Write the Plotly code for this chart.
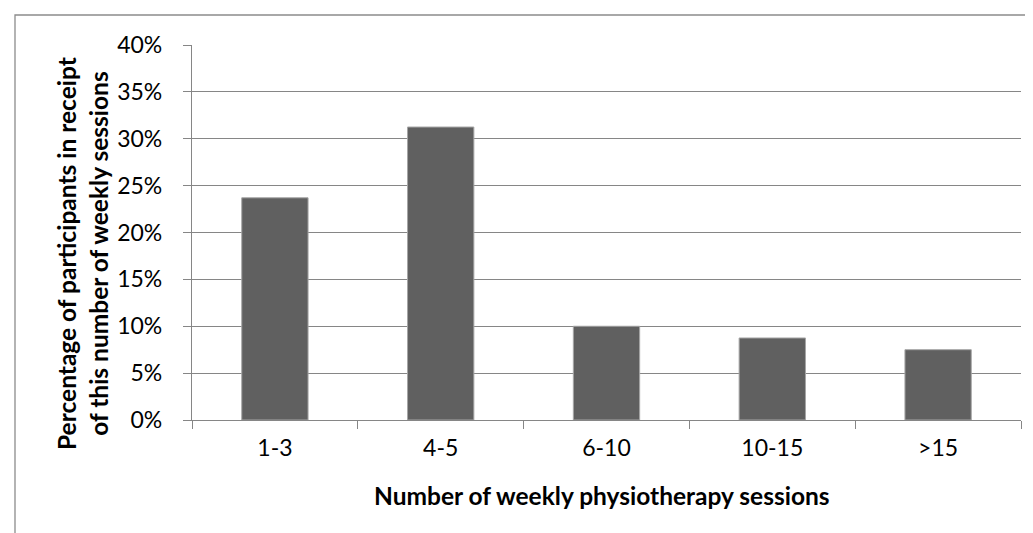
import plotly.graph_objects as go

categories = ["1-3", "4-5", "6-10", "10-15", ">15"]
values = [0.237, 0.3125, 0.100, 0.0875, 0.075]
y_ticks = [0, 0.05, 0.10, 0.15, 0.20, 0.25, 0.30, 0.35, 0.40]
x_title = "Number of weekly physiotherapy sessions"
y_title = "Percentage of participants in receipt<br>of this number of weekly sessions"

W, H = 1033, 533
L, R, T, B = 184, 20, 37, 121
FONT = "Lato"
GRID = "#868686"

fig = go.Figure(go.Bar(
    x=categories, y=values,
    marker=dict(color="#606060", line=dict(color="#a6a6a6", width=1)),
    width=0.4,
))

fig.update_layout(
    width=W, height=H,
    margin=dict(l=L, r=R, t=T, b=B, pad=0),
    paper_bgcolor="white", plot_bgcolor="white",
    showlegend=False,
    font=dict(family=FONT, color="black"),
    xaxis=dict(
        type="category", tickson="boundaries",
        ticks="outside", ticklen=8, tickcolor=GRID, tickwidth=1.3,
        showline=True, linecolor=GRID, linewidth=1.3,
        showgrid=False,
        tickfont=dict(family=FONT, size=23, color="black"),
        ticklabelstandoff=7,
    ),
    yaxis=dict(
        range=[0, 0.4], tickvals=y_ticks, tickformat=".0%",
        ticks="outside", ticklen=8, tickcolor=GRID, tickwidth=1.3,
        showline=True, linecolor=GRID, linewidth=1.3,
        showgrid=True, gridcolor=GRID, gridwidth=1.3,
        zeroline=False,
        tickfont=dict(family=FONT, size=23, color="black"),
        ticklabelstandoff=16,
    ),
    annotations=[
        dict(text="<b>" + x_title + "</b>", xref="paper", yref="paper",
             x=(593.5 - L) / (W - L - R), y=-(487 - (H - B)) / (H - T - B),
             xanchor="center", yanchor="middle", showarrow=False,
             font=dict(family=FONT, size=24.5, color="black")),
        dict(text="<b>" + y_title + "</b>", xref="paper", yref="paper",
             x=(74 - L) / (W - L - R), y=((H - B) - 246) / (H - T - B),
             xanchor="center", yanchor="middle", showarrow=False, textangle=-90,
             font=dict(family=FONT, size=24.5, color="black")),
    ],
    shapes=[
        dict(type="rect", xref="paper", yref="paper",
             x0=(7 - L) / (W - L - R), x1=(1045 - L) / (W - L - R),
             y0=-(545 - (H - B)) / (H - T - B), y1=((H - B) - 7) / (H - T - B),
             line=dict(color="#8c8c8c", width=1.3), layer="below"),
    ],
)

fig.write_html("out.html")
